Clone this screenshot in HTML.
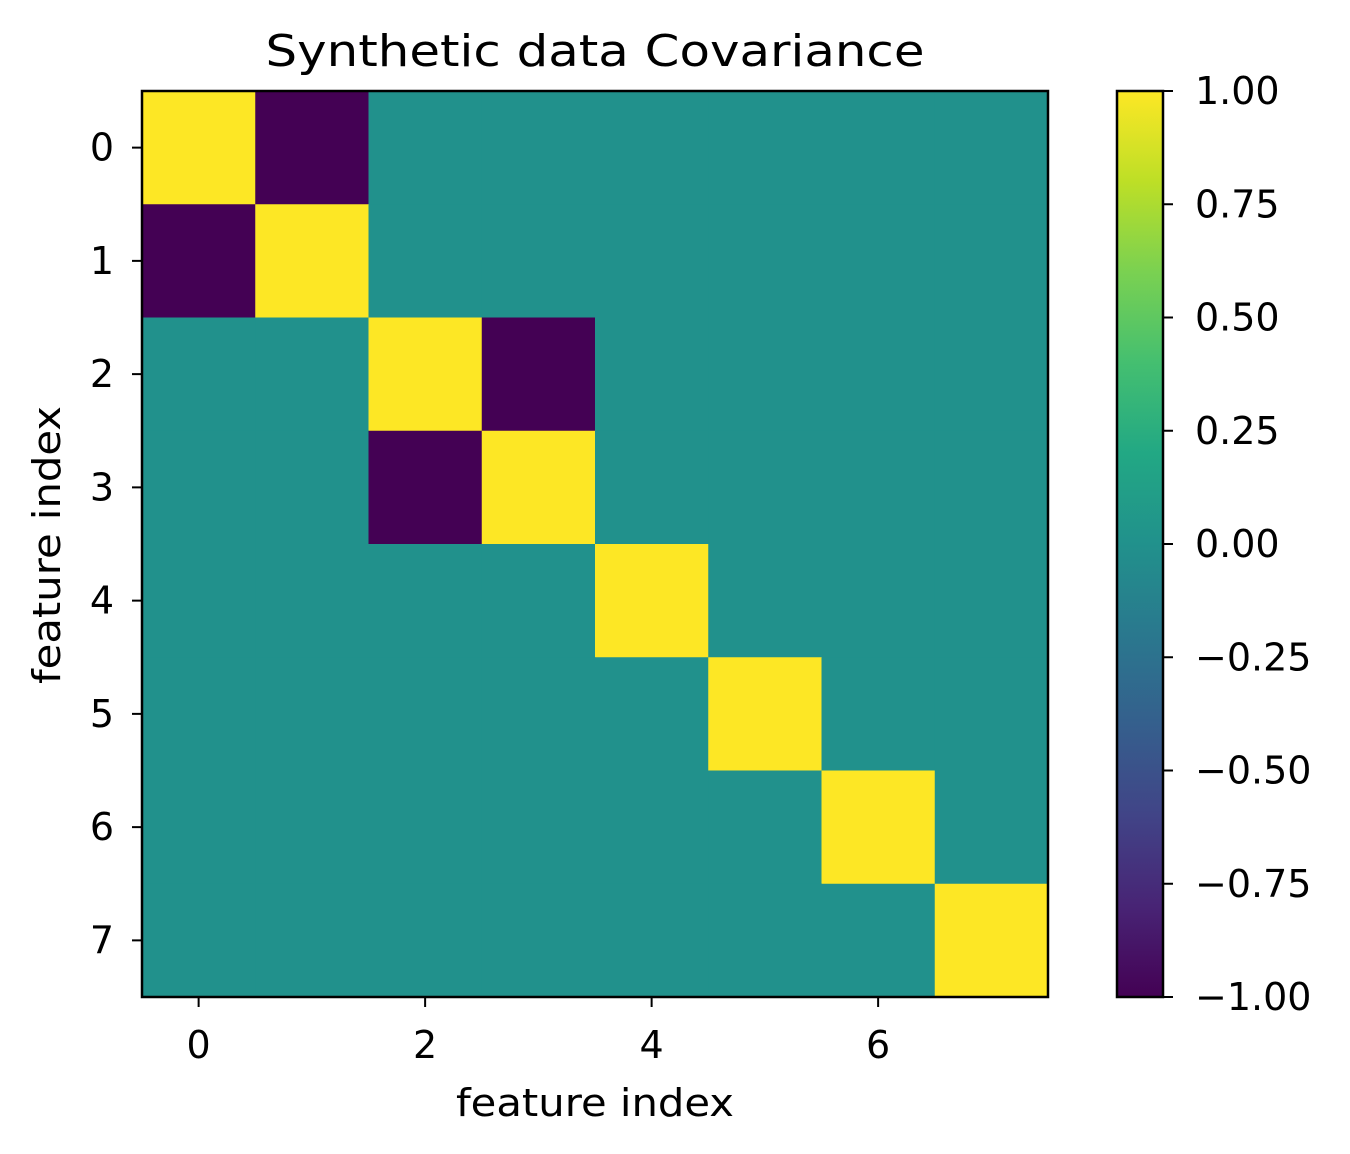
<!DOCTYPE html>
<html><head><meta charset="utf-8">
<style>html,body{margin:0;padding:0;background:#fff;}svg{display:block;font-family:"DejaVu Sans","Liberation Sans",sans-serif;}</style>
</head><body>
<svg id="chart" width="1350" height="1154" viewBox="0 0 1350 1154" xmlns="http://www.w3.org/2000/svg">
<defs>
<linearGradient id="viridis" x1="0" y1="1" x2="0" y2="0">
<stop offset="0" stop-color="#440154"/><stop offset="0.1" stop-color="#482475"/>
<stop offset="0.2" stop-color="#414487"/><stop offset="0.3" stop-color="#355f8d"/>
<stop offset="0.4" stop-color="#2a788e"/><stop offset="0.5" stop-color="#21918c"/>
<stop offset="0.6" stop-color="#22a884"/><stop offset="0.7" stop-color="#44bf70"/>
<stop offset="0.8" stop-color="#7ad151"/><stop offset="0.9" stop-color="#bddf26"/>
<stop offset="1" stop-color="#fde725"/>
</linearGradient>
</defs>
<text x="595" y="66" font-size="44" text-anchor="middle" textLength="659" lengthAdjust="spacingAndGlyphs">Synthetic data Covariance</text>
<g id="cells"></g>
<rect x="142" y="91" width="906" height="906" fill="none" stroke="#000" stroke-width="2.5"/>
<g id="axes"></g>
<text x="595" y="1116" font-size="38" text-anchor="middle" textLength="278" lengthAdjust="spacingAndGlyphs">feature index</text>
<text transform="translate(60,545) rotate(-90)" font-size="38" text-anchor="middle" textLength="278" lengthAdjust="spacingAndGlyphs">feature index</text>
<rect x="1117" y="91" width="46" height="906" fill="url(#viridis)" stroke="#000" stroke-width="2.5"/>
<g id="cbar"></g>
</svg>
<script>
const features = [0,1,2,3,4,5,6,7];
const covValues = [
 [1.00,-1.00,0.00,0.00,0.00,0.00,0.00,0.00],
 [-1.00,1.00,0.00,0.00,0.00,0.00,0.00,0.00],
 [0.00,0.00,1.00,-1.00,0.00,0.00,0.00,0.00],
 [0.00,0.00,-1.00,1.00,0.00,0.00,0.00,0.00],
 [0.00,0.00,0.00,0.00,1.00,0.00,0.00,0.00],
 [0.00,0.00,0.00,0.00,0.00,1.00,0.00,0.00],
 [0.00,0.00,0.00,0.00,0.00,0.00,1.00,0.00],
 [0.00,0.00,0.00,0.00,0.00,0.00,0.00,1.00]
];
const xTicks = [0,2,4,6];
const yTicks = [0,1,2,3,4,5,6,7];
const cbarTicks = [1.00,0.75,0.50,0.25,0.00,-0.25,-0.50,-0.75,-1.00];
const vmin = -1, vmax = 1;

const NS = "http://www.w3.org/2000/svg";
const L=142, T=91, W=906, H=906;
const n = features.length;
const cw = W/n, ch = H/n;
const xScale = i => L + (i+0.5)*cw;
const yScale = i => T + (i+0.5)*ch;
const cScale = v => T + H - (v - vmin)/(vmax-vmin)*H;

const stops = ["#440154","#482475","#414487","#355f8d","#2a788e","#21918c","#22a884","#44bf70","#7ad151","#bddf26","#fde725"];
function hex(h){return [1,3,5].map(i=>parseInt(h.substr(i,2),16));}
function viridis(v){
  let t = Math.max(0,Math.min(1,(v-vmin)/(vmax-vmin)))*(stops.length-1);
  let i = Math.min(stops.length-2, Math.floor(t)), f = t-i;
  const a=hex(stops[i]), b=hex(stops[i+1]);
  return "rgb("+a.map((x,k)=>Math.round(x+(b[k]-x)*f)).join(",")+")";
}
function mk(tag, attrs, parent){const e=document.createElementNS(NS,tag);for(const k in attrs)e.setAttribute(k,attrs[k]);parent.appendChild(e);return e;}

const cells = document.getElementById("cells");
covValues.forEach((row,r)=>row.forEach((v,c)=>{
  const e = mk("rect",{x:xScale(c)-cw/2,y:yScale(r)-ch/2,width:cw+0.5,height:ch+0.5,fill:viridis(v)},cells);
  
  
}));

const axes = document.getElementById("axes");
xTicks.forEach(t=>{
  const x = xScale(t);
  const l = mk("line",{x1:x,y1:T+H,x2:x,y2:T+H+10,stroke:"#000","stroke-width":2},axes);
  
  
  const tx = mk("text",{x:x,y:T+H+61,"font-size":38,"text-anchor":"middle"},axes);
  tx.textContent = t;
  
  
});
yTicks.forEach(t=>{
  const y = yScale(t);
  const l = mk("line",{x1:L-10,y1:y,x2:L,y2:y,stroke:"#000","stroke-width":2},axes);
  
  
  const tx = mk("text",{x:L-28,y:y+13,"font-size":38,"text-anchor":"end"},axes);
  tx.textContent = t;
  
  
});
const cb = document.getElementById("cbar");
cbarTicks.forEach(t=>{
  const y = cScale(t);
  const l = mk("line",{x1:1163,y1:y,x2:1173,y2:y,stroke:"#000","stroke-width":2},cb);
  
  
  const tx = mk("text",{x:1195,y:y+13,"font-size":38},cb);
  tx.textContent = (t<0?"\u2212":"")+Math.abs(t).toFixed(2);
  
  
});
</script>
</body></html>
